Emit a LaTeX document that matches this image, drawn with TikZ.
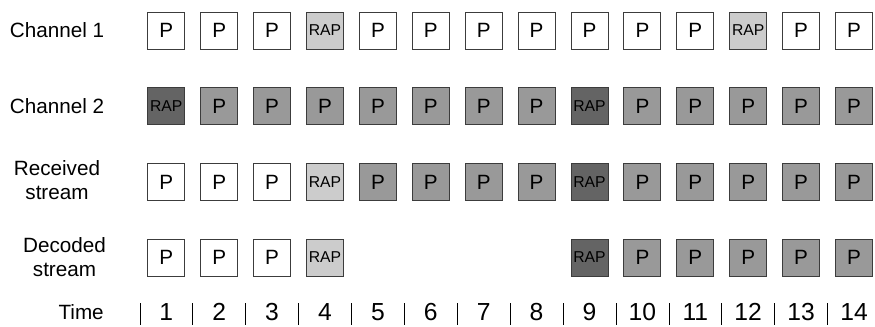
\documentclass[tikz,border=0pt]{standalone}
\usepackage{fontspec}
\setmainfont{Liberation Sans}
\usetikzlibrary{positioning}
\definecolor{boxline}{HTML}{3C3C3C}
\definecolor{raplight}{HTML}{CCCCCC}
\definecolor{pmid}{HTML}{999999}
\definecolor{rapdark}{HTML}{646464}
\begin{document}
\begin{tikzpicture}[x=0.75pt,y=-0.75pt,
  box/.style={draw=boxline,line width=0.75pt,minimum size=27.75pt,inner sep=0pt},
  pw/.style={box,fill=white,font=\fontsize{15.5}{18}\selectfont},
  pm/.style={box,fill=pmid,font=\fontsize{15.5}{18}\selectfont},
  rl/.style={box,fill=raplight,font=\fontsize{11.8}{14}\selectfont},
  rd/.style={box,fill=rapdark,font=\fontsize{11.8}{14}\selectfont},
  lbl/.style={align=center,inner sep=0pt,font=\fontsize{15.5}{18}\selectfont},
  tick/.style={anchor=base,inner sep=0pt,font=\fontsize{18.5}{22}\selectfont}]
\useasboundingbox (0,0) rectangle (875,326);
% row labels
\node[lbl] (lch1) at (57,30.5) {Channel 1};
\node[lbl] (lch2) at (57,106) {Channel 2};
\node[lbl] (lrx) at (57,180) {Received\\stream};
\node[lbl] (ldec) at (64.5,257) {Decoded\\stream};
\node[lbl,anchor=base east] (ltime) at (104,319) {Time};
% channel 1
\foreach \s/\t [count=\i] in {pw/P,pw/P,pw/P,rl/RAP,pw/P,pw/P,pw/P,pw/P,pw/P,pw/P,pw/P,rl/RAP,pw/P,pw/P}
  \node[\s] (ch1-\i) at ({166.3+(\i-1)*52.9},30.5) {\t};
% channel 2
\foreach \s/\t [count=\i] in {rd/RAP,pm/P,pm/P,pm/P,pm/P,pm/P,pm/P,pm/P,rd/RAP,pm/P,pm/P,pm/P,pm/P,pm/P}
  \node[\s] (ch2-\i) at ({166.3+(\i-1)*52.9},106) {\t};
% received stream
\foreach \s/\t [count=\i] in {pw/P,pw/P,pw/P,rl/RAP,pm/P,pm/P,pm/P,pm/P,rd/RAP,pm/P,pm/P,pm/P,pm/P,pm/P}
  \node[\s] (rx-\i) at ({166.3+(\i-1)*52.9},182) {\t};
% decoded stream (5--8 missing)
\foreach \s/\t [count=\i] in {pw/P,pw/P,pw/P,rl/RAP}
  \node[\s] (dec-\i) at ({166.3+(\i-1)*52.9},257.5) {\t};
\foreach \s/\t [count=\i from 9] in {rd/RAP,pm/P,pm/P,pm/P,pm/P,pm/P}
  \node[\s] (dec-\i) at ({166.3+(\i-1)*52.9},257.5) {\t};
% time axis
\foreach \i in {1,...,14} {
  \draw[line width=0.7pt] ({140+(\i-1)*52.9},303) -- ++(0,22);
  \node[tick] (t-\i) at ({166.3+(\i-1)*52.9},320.5) {\i};
}
\end{tikzpicture}
\end{document}
